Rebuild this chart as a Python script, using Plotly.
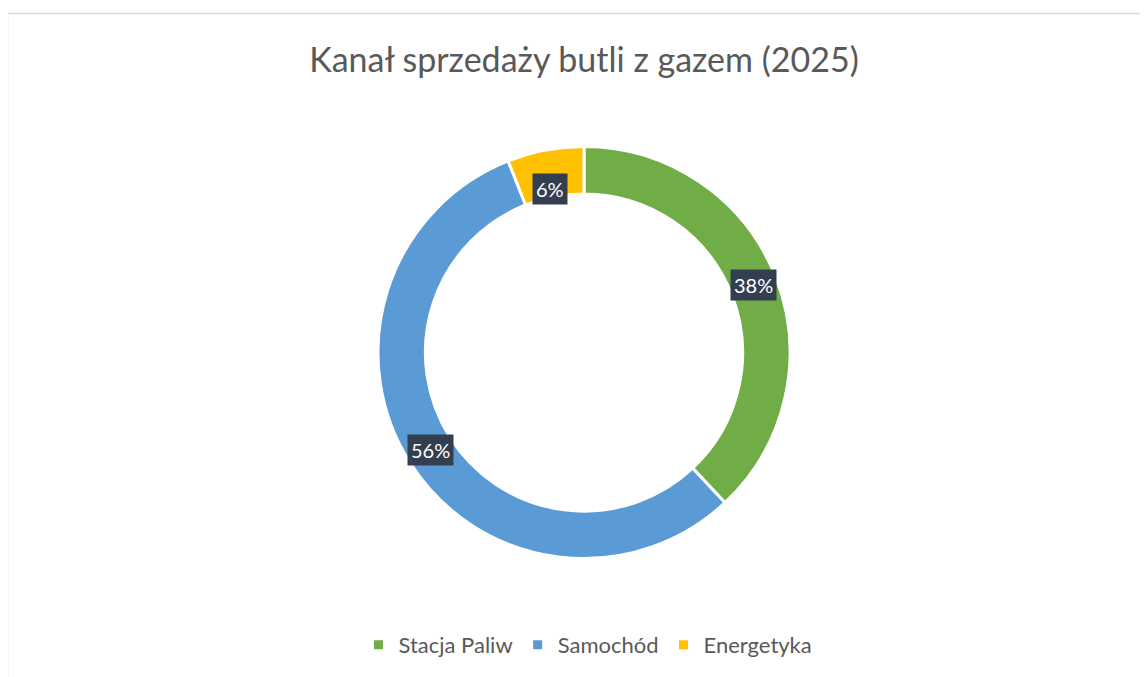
import math
import plotly.graph_objects as go

# data
channels = ['Stacja Paliw', 'Samochód', 'Energetyka']
shares = [38, 56, 6]
colors = ['#70AD47', '#5B9BD5', '#FFC000']

W, H = 1148, 677
OFF = 8  # page body margin shifts the figure
cx, cy, r_out = 584 - OFF, 352.5 - OFF, 206
hole = 0.77

dom_x = [(cx - r_out) / W, (cx + r_out) / W]
dom_y = [(H - cy - r_out) / H, (H - cy + r_out) / H]

fig = go.Figure(go.Pie(
    labels=channels,
    values=shares,
    marker=dict(colors=colors, line=dict(color='white', width=3)),
    hole=hole,
    sort=False,
    direction='clockwise',
    rotation=0,
    textinfo='none',
    hoverinfo='skip',
    domain=dict(x=dom_x, y=dom_y),
))

# data labels in dark boxes, placed at the middle of the ring
total = sum(shares)
r_mid = r_out * (1 + hole) / 2
acc = 0
for name, v in zip(channels, shares):
    mid = (acc + v / 2) / total * 2 * math.pi
    acc += v
    px_ = cx + r_mid * math.sin(mid)
    py_ = cy - r_mid * math.cos(mid)
    fig.add_annotation(
        x=px_ / W, y=1 - py_ / H, xref='paper', yref='paper',
        text=f'{round(v / total * 100)}%', showarrow=False,
        font=dict(size=20, color='white', family='Lato'),
        bgcolor='#333F50', borderpad=3,
    )

fig.add_shape(type='rect', xref='paper', yref='paper',
              x0=(7.5 - OFF) / W, x1=1.05, y0=-0.05, y1=1 - (13.5 - OFF) / H,
              line=dict(color='#D9D9D9', width=1.5), fillcolor='rgba(0,0,0,0)')

fig.update_layout(
    width=W, height=H,
    margin=dict(l=0, r=0, t=0, b=0),
    paper_bgcolor='white',
    title=dict(text='Kanał sprzedaży butli z gazem (2025)', x=cx / W, xanchor='center',
               y=1 - (60 - OFF) / H, yanchor='middle',
               font=dict(size=34, color='#595959', family='Lato')),
    legend=dict(orientation='h', x=(588 - OFF) / W, xanchor='center',
                y=1 - (645 - OFF) / H, yanchor='middle',
                font=dict(size=22, color='#595959', family='Lato'), itemclick=False),
)

fig.write_html('out.html')
